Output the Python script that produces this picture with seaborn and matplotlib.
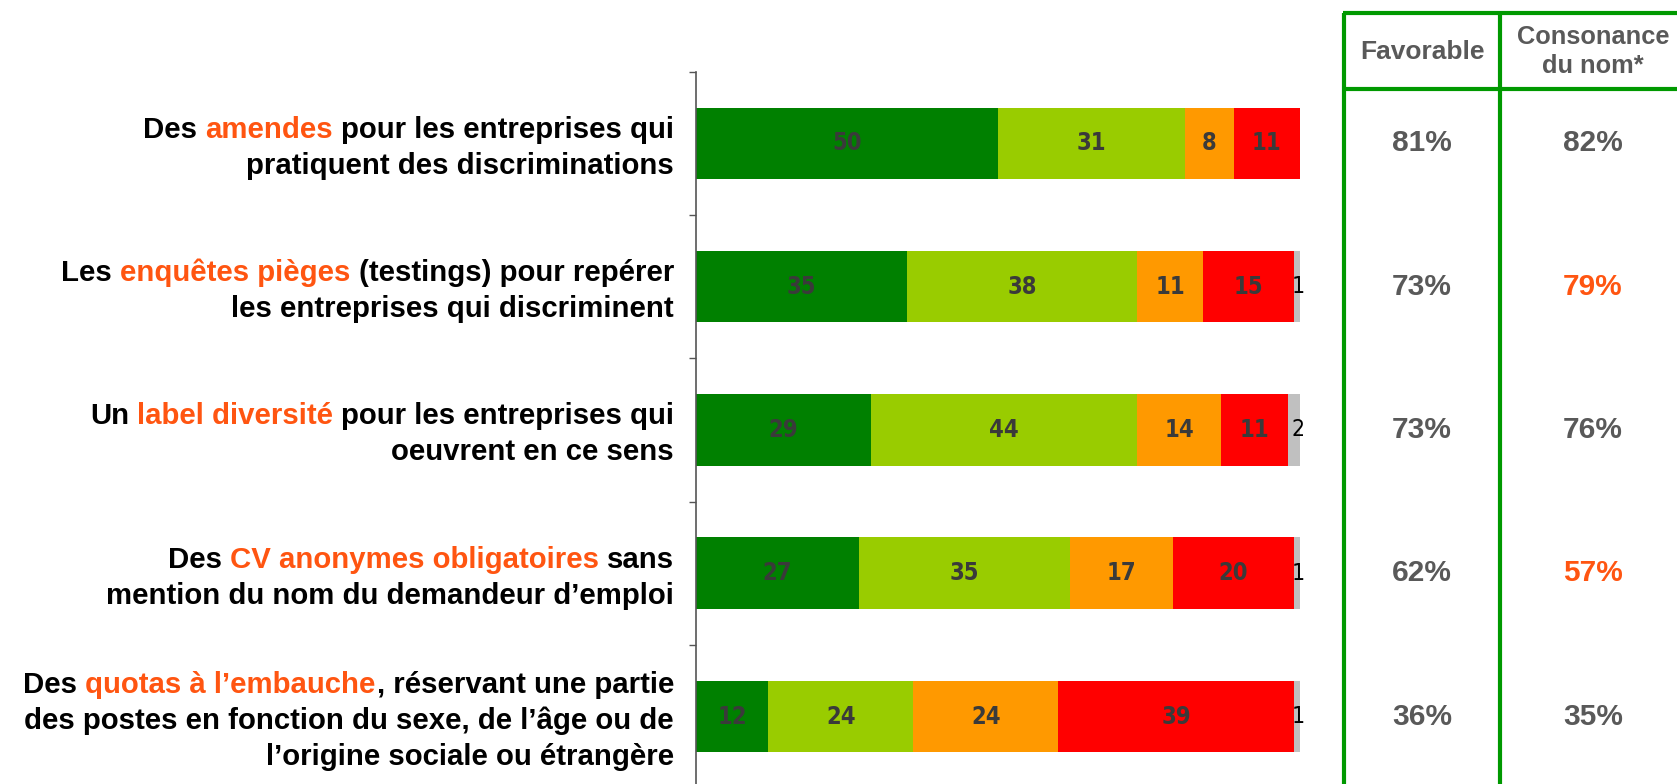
import matplotlib
matplotlib.use("Agg")
import matplotlib.pyplot as plt
import seaborn as sns
import numpy as np
import pandas as pd
from matplotlib.lines import Line2D
from matplotlib import font_manager as fm

# ---------------- data ----------------
row_ids = ["amendes", "testings", "label", "cv", "quotas"]
tout_a_fait = [50, 35, 29, 27, 12]
plutot = [31, 38, 44, 35, 24]
plutot_pas = [8, 11, 14, 17, 24]
pas_du_tout = [11, 15, 11, 20, 39]
nsp = [0, 1, 2, 1, 1]

favorable = ["81%", "73%", "73%", "62%", "36%"]
consonance = ["82%", "79%", "76%", "57%", "35%"]
consonance_highlight = [False, True, False, True, False]

header_fav = "Favorable"
header_cons = ["Consonance", "du nom*"]

# label lines: list of (text, highlighted)
row_labels = [
    [[("Des", 0), ("amendes", 1), ("pour les entreprises qui", 0)],
     [("pratiquent des discriminations", 0)]],
    [[("Les", 0), ("enquêtes pièges", 1), ("(testings) pour repérer", 0)],
     [("les entreprises qui discriminent", 0)]],
    [[("Un", 0), ("label diversité", 1), ("pour les entreprises qui", 0)],
     [("oeuvrent en ce sens", 0)]],
    [[("Des", 0), ("CV anonymes obligatoires", 1), ("sans", 0)],
     [("mention du nom du demandeur d’emploi", 0)]],
    [[("Des", 0), ("quotas à l’embauche", 1), (", réservant une partie", 0)],
     [("des postes en fonction du sexe, de l’âge ou de", 0)],
     [("l’origine sociale ou étrangère", 0)]],
]

# ---------------- style ----------------
series = [tout_a_fait, plutot, plutot_pas, pas_du_tout, nsp]
colors = ["#008000", "#99CC00", "#FF9900", "#FF0000", "#C0C0C0"]
ORANGE = "#FF5511"
GRAY_TXT = "#595959"
TABLE_GREEN = "#009900"

W, H = 1677, 784
sns.set_theme(style="white")
plt.rcParams["font.family"] = ["Liberation Sans", "DejaVu Sans"]


def find_font(fragment, fallback_family, weight):
    for f in fm.fontManager.ttflist:
        if fragment.lower() in f.fname.lower().replace("\\", "/").split("/")[-1]:
            return fm.FontProperties(fname=f.fname)
    return fm.FontProperties(family=fallback_family, weight=weight)


val_font = find_font("DejaVuSansCondensed-Bold.ttf", "DejaVu Sans", "bold")
small_font = find_font("DejaVuSansCondensed.ttf", "DejaVu Sans", "normal")

fig = plt.figure(figsize=(W / 100, H / 100), dpi=100)


def fx(x):
    return x / W


def fy(y):
    return 1 - y / H


ax_left, ax_right = 696, 1300
ax_top, ax_bot = 71.7, 788.2
ax = fig.add_axes([fx(ax_left), fy(ax_bot), (ax_right - ax_left) / W, (ax_bot - ax_top) / H])

cum = np.zeros(len(row_ids))
cums = []
for s in series:
    cum = cum + np.array(s)
    cums.append(cum.copy())

# draw cumulative bars from the longest to the shortest
for k in range(len(series) - 1, -1, -1):
    d = pd.DataFrame({"row": row_ids, "val": cums[k]})
    sns.barplot(data=d, x="val", y="row", orient="h", color=colors[k], saturation=1,
                width=0.5, linewidth=0, errorbar=None, ax=ax, order=row_ids)

ax.set_xlim(0, 100)
ax.set_ylim(len(row_ids) - 0.5, -0.5)
ax.set_xlabel("")
ax.set_ylabel("")
ax.set_xticks([])
ax.set_yticks(np.arange(-0.5, len(row_ids) + 0.5, 1.0))
ax.set_yticklabels([])
ax.tick_params(axis="y", direction="out", length=5, width=1, color="#555555", left=True)
for sp in ["top", "right", "bottom"]:
    ax.spines[sp].set_visible(False)
ax.spines["left"].set_color("#555555")
ax.spines["left"].set_linewidth(1.2)
ax.set_facecolor("none")

# segment values
for i in range(len(row_ids)):
    start = 0
    for k, s in enumerate(series):
        v = s[i]
        if v == 0:
            continue
        if k < 4:
            ax.text(start + v / 2, i, str(v), ha="center", va="center", fontsize=17,
                    fontproperties=val_font, color="#3a3a3a")
        else:
            ax.text(99.7, i, str(v), ha="center", va="center", fontsize=16.5,
                    fontproperties=small_font, color="black")
        start += v

# row labels with coloured words
FS = 21.2
GAP = 5.8
PX2PT = 0.72
for i, lines in enumerate(row_labels):
    n = len(lines)
    for j, line in enumerate(lines):
        yvis = (j - (n - 1) / 2) * 36 + 2
        base = yvis + 10.5
        prev = None
        for idx in range(len(line) - 1, -1, -1):
            txt, hl = line[idx]
            col = ORANGE if hl else "black"
            if prev is None:
                prev = ax.annotate(txt, xy=(0, i), xycoords=("axes fraction", "data"),
                                   xytext=(-(ax_left - 674) * PX2PT, -base * PX2PT),
                                   textcoords="offset points", ha="right", va="baseline",
                                   fontsize=FS, fontweight="bold", color=col,
                                   annotation_clip=False)
            else:
                nxt = line[idx + 1][0]
                gap = 0.8 if nxt.startswith(",") else GAP
                prev = ax.annotate(txt, xy=(0, 0), xycoords=prev,
                                   xytext=(-gap, 0), textcoords="offset points",
                                   ha="right", va="bottom", fontsize=FS,
                                   fontweight="bold", color=col, annotation_clip=False)

# ---------------- table ----------------
lw = 3.0
x1, x2, x3 = 1344, 1500, 1686
for x in (x1, x2):
    fig.add_artist(Line2D([fx(x), fx(x)], [fy(13), fy(H + 5)], color=TABLE_GREEN,
                          lw=lw, transform=fig.transFigure, solid_capstyle="butt"))
for y in (13, 89):
    fig.add_artist(Line2D([fx(x1 - 1.5), fx(W + 5)], [fy(y), fy(y)], color=TABLE_GREEN,
                          lw=lw, transform=fig.transFigure, solid_capstyle="butt"))

c1 = (x1 + x2) / 2
c2 = (x2 + x3) / 2
fig.text(fx(c1), fy(52), header_fav, ha="center", va="center", fontsize=19,
         fontweight="bold", color=GRAY_TXT)
fig.text(fx(c2), fy(37), header_cons[0], ha="center", va="center", fontsize=18.3,
         fontweight="bold", color=GRAY_TXT)
fig.text(fx(c2), fy(66), header_cons[1], ha="center", va="center", fontsize=18.3,
         fontweight="bold", color=GRAY_TXT)

for i in range(len(row_ids)):
    yc = ax_top + (i + 0.5) * (ax_bot - ax_top) / len(row_ids)
    fig.text(fx(c1), fy(yc), favorable[i], ha="center", va="center", fontsize=21.5,
             fontweight="bold", color=GRAY_TXT)
    fig.text(fx(c2), fy(yc), consonance[i], ha="center", va="center", fontsize=21.5,
             fontweight="bold", color=ORANGE if consonance_highlight[i] else GRAY_TXT)

fig.savefig("out.png", dpi=100, facecolor="white")
